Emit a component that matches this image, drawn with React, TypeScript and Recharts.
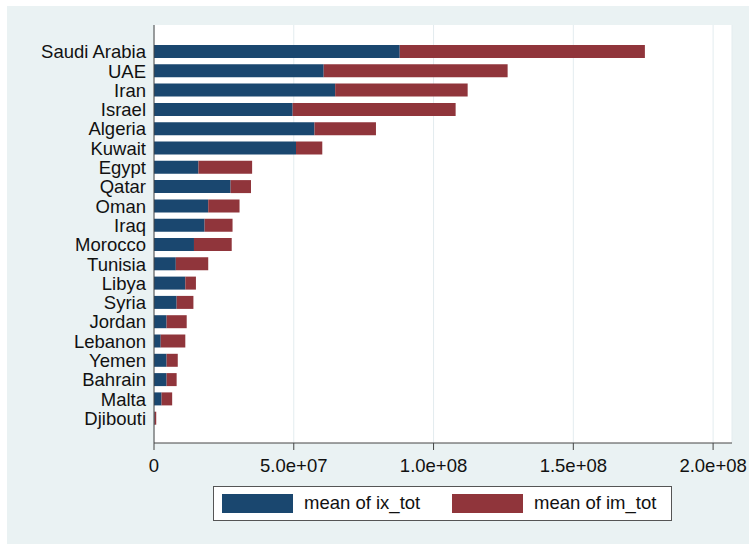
import React from "react";
import { BarChart, Bar, XAxis, YAxis, CartesianGrid } from "recharts";

const countries = [
  "Saudi Arabia", "UAE", "Iran", "Israel", "Algeria", "Kuwait", "Egypt", "Qatar",
  "Oman", "Iraq", "Morocco", "Tunisia", "Libya", "Syria", "Jordan", "Lebanon",
  "Yemen", "Bahrain", "Malta", "Djibouti",
];
const ixTot = [
  87.9e6, 60.7e6, 64.8e6, 49.6e6, 57.4e6, 50.8e6, 15.9e6, 27.4e6, 19.4e6, 18.1e6,
  14.3e6, 7.8e6, 11.2e6, 8.1e6, 4.5e6, 2.4e6, 4.5e6, 4.5e6, 2.7e6, 0.2e6,
];
const imTot = [
  87.7e6, 65.8e6, 47.4e6, 58.3e6, 22.0e6, 9.4e6, 19.2e6, 7.3e6, 11.2e6, 10.0e6,
  13.5e6, 11.6e6, 3.8e6, 6.0e6, 7.2e6, 8.8e6, 4.0e6, 3.6e6, 3.8e6, 0.6e6,
];
const seriesNames = ["mean of ix_tot", "mean of im_tot"];
const seriesColors = ["#1A476F", "#90353B"];
const xTicks = [0, 5e7, 1e8, 1.5e8, 2e8];
const xTickLabels = ["0", "5.0e+07", "1.0e+08", "1.5e+08", "2.0e+08"];

const data = countries.map((c, i) => ({ country: c, ix: ixTot[i], im: imTot[i] }));

const FONT = "'Liberation Sans', Arial, Helvetica, sans-serif";

export default function App() {
  return (
    <div style={{ position: "absolute", left: 0, top: 0, width: 749, height: 544, background: "#ffffff", fontFamily: FONT }}>
      <div style={{ position: "absolute", left: 7, top: 6, right: 0, bottom: 0, background: "#EAF2F3" }} />
      <div style={{ position: "absolute", left: 0, top: 0 }}>
        <BarChart
          width={749}
          height={544}
          data={data}
          layout="vertical"
          margin={{ top: 25, right: 17, bottom: 0, left: 0 }}
        >
          <CartesianGrid horizontal={false} fill="#ffffff" stroke="#E3ECEF" strokeWidth={1} />
          <XAxis
            type="number"
            domain={[0, 206760000]}
            ticks={xTicks}
            interval={0}
            height={101}
            tickSize={7}
            tickMargin={9}
            tickFormatter={(v: number) => xTickLabels[xTicks.indexOf(v)] ?? String(v)}
            axisLine={{ stroke: "#444", strokeWidth: 1 }}
            tickLine={{ stroke: "#444", strokeWidth: 1 }}
            tick={{ fill: "#111", fontSize: 18.5, fontFamily: FONT }}
          />
          <YAxis
            type="category"
            dataKey="country"
            width={154}
            interval={0}
            tickLine={false}
            tickSize={6}
            tickMargin={2}
            padding={{ top: 17, bottom: 15 }}
            axisLine={{ stroke: "#444", strokeWidth: 1 }}
            tick={{ fill: "#111", fontSize: 18.5, fontFamily: FONT }}
          />
          <Bar dataKey="ix" stackId="a" fill={seriesColors[0]} barSize={13} isAnimationActive={false} />
          <Bar dataKey="im" stackId="a" fill={seriesColors[1]} barSize={13} isAnimationActive={false} />
        </BarChart>
      </div>
      <div
        style={{
          position: "absolute",
          left: 213,
          top: 486,
          width: 457,
          height: 33,
          background: "#ffffff",
          border: "1px solid #555",
        }}
      >
        {seriesNames.map((name, i) => (
          <div
            key={name}
            style={{
              position: "absolute",
              left: i === 0 ? 8 : 238,
              top: 6,
              display: "flex",
              alignItems: "center",
              height: 20,
            }}
          >
            <div style={{ width: 71, height: 19, background: seriesColors[i] }} />
            <span style={{ marginLeft: 11, fontSize: 18.5, color: "#111", whiteSpace: "nowrap" }}>{name}</span>
          </div>
        ))}
      </div>
    </div>
  );
}
